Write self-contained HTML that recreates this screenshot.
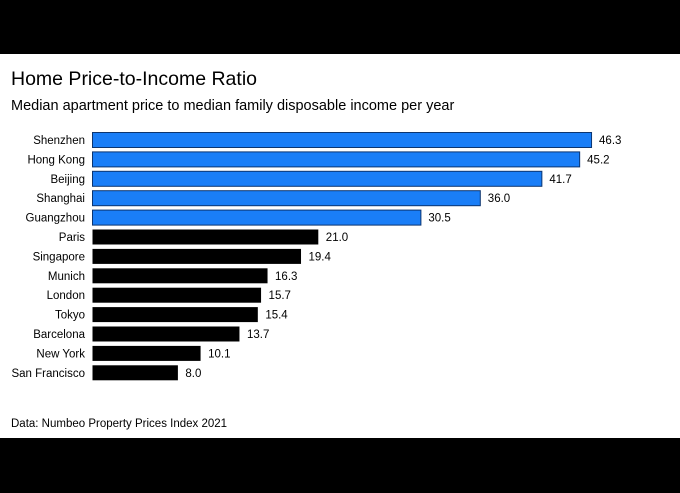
<!DOCTYPE html>
<html><head><meta charset="utf-8"><style>
body{margin:0;width:680px;height:493px;background:#fff;font-family:"Liberation Sans",sans-serif;overflow:hidden;position:relative}
.band{position:absolute;left:0;width:680px;background:#000}
</style></head><body>
<div class="band" style="top:0;height:54px"></div>
<div class="band" style="top:438px;height:55px"></div>
<svg id="chart" width="680" height="493" style="position:absolute;left:0;top:0">
<text x="11" y="85" font-size="19.5" fill="#000">Home Price-to-Income Ratio</text>
<text x="11" y="110" font-size="14.5" fill="#000">Median apartment price to median family disposable income per year</text>
<text x="11" y="427" font-size="11.5" fill="#000">Data: Numbeo Property Prices Index 2021</text>
<g id="bars"></g>
</svg>
<script>
const categories=["Shenzhen","Hong Kong","Beijing","Shanghai","Guangzhou","Paris","Singapore","Munich","London","Tokyo","Barcelona","New York","San Francisco"];
const values=[46.3,45.2,41.7,36.0,30.5,21.0,19.4,16.3,15.7,15.4,13.7,10.1,8.0];
const highlighted=[true,true,true,true,true,false,false,false,false,false,false,false,false];
const x0=92,k=10.8,y0=132.5,step=19.4,bh=15;
const xs=v=>x0+v*k, ys=i=>y0+i*step;
const g=document.getElementById('bars'),NS="http://www.w3.org/2000/svg";
categories.forEach((c,i)=>{
 const r=document.createElementNS(NS,'rect');
 
 
 r.setAttribute('x',x0+0.5);r.setAttribute('y',ys(i));r.setAttribute('width',xs(values[i])-x0-1);r.setAttribute('height',bh);
 r.setAttribute('fill',highlighted[i]?'#1a7ef7':'#000');
 if(highlighted[i]){r.setAttribute('stroke','#0c3570');r.setAttribute('stroke-width','1');}
 g.appendChild(r);
 const l=document.createElementNS(NS,'text');
 
 
 l.setAttribute('x',85);l.setAttribute('y',ys(i)+11.5);l.setAttribute('text-anchor','end');l.setAttribute('font-size','11.5');
 l.textContent=c;g.appendChild(l);
 const v=document.createElementNS(NS,'text');
 
 
 v.setAttribute('x',xs(values[i])+7);v.setAttribute('y',ys(i)+11.5);v.setAttribute('font-size','11.5');
 v.textContent=values[i].toFixed(1);g.appendChild(v);
});
</script>
</body></html>
